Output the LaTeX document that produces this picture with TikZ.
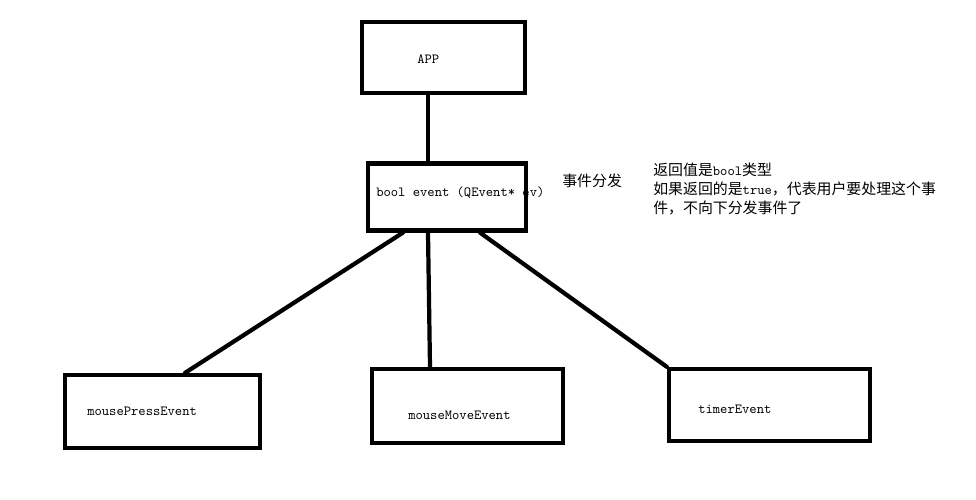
\documentclass[tikz,border=0pt]{standalone}
\usepackage{fontspec}
\newfontfamily\cjk{Noto Sans CJK SC}
\newcommand{\monoword}[1]{{\ttfamily\fontsize{9.9}{11}\selectfont #1}}
\begin{document}
\begin{tikzpicture}
[x=0.025cm,y=-0.025cm,%
  boxdecorate/.style={shape=rectangle,draw,line width=3pt,inner sep=0pt},%
  linedecorate/.style={-,line width=3pt,line cap=round},%
  textdecorate/.style={anchor=west,inner sep=0pt,font=\fontsize{9.9}{11}\ttfamily},%
  notedecorate/.style={anchor=west,inner sep=0pt,align=left,font=\fontsize{10.6}{13.8}\cjk}]
\useasboundingbox (0,0) rectangle (976,500);
%% texts inside the boxes
\foreach \textname/\x/\y/\content in {
  apptext/417/59/APP, eventtext/376/193/{bool event (QEvent* ev)},
  presstext/87/411/mousePressEvent, movetext/408/415/mouseMoveEvent,
  timertext/698/409/timerEvent}
{
  \node (\textname) at (\x,\y) [textdecorate] {\content};
}
%% boxes
\foreach \nodename/\x/\y/\w/\h in {
  app/443.5/57.5/163/71, event/447/197/158/67, press/162.5/411.5/195/73,
  move/467.5/406/191/74, timer/769.5/405/201/72}
{
  \node (\nodename) at (\x,\y) [boxdecorate,minimum width=\w*0.025cm,minimum height=\h*0.025cm] {};
}
%% notes
\node (dispatch) at (562,181) [notedecorate] {事件分发};
\node (note) at (653,189) [notedecorate] {返回值是\monoword{bool}类型\\
  如果返回的是\monoword{true}，代表用户要处理这个事\\
  件，不向下分发事件了};
%% edges or lines
\path
\foreach \startnode/\sx/\endnode/\ex in {
  app.south/-15.5/event.north/-19, event.south/-44/press.north/22.5,
  event.south/-19/move.north/-37.5, event.south/33/timer.north west/0} {
  ([xshift=\sx*0.025cm]\startnode) edge[linedecorate] ([xshift=\ex*0.025cm]\endnode)
};
\end{tikzpicture}
\end{document}
